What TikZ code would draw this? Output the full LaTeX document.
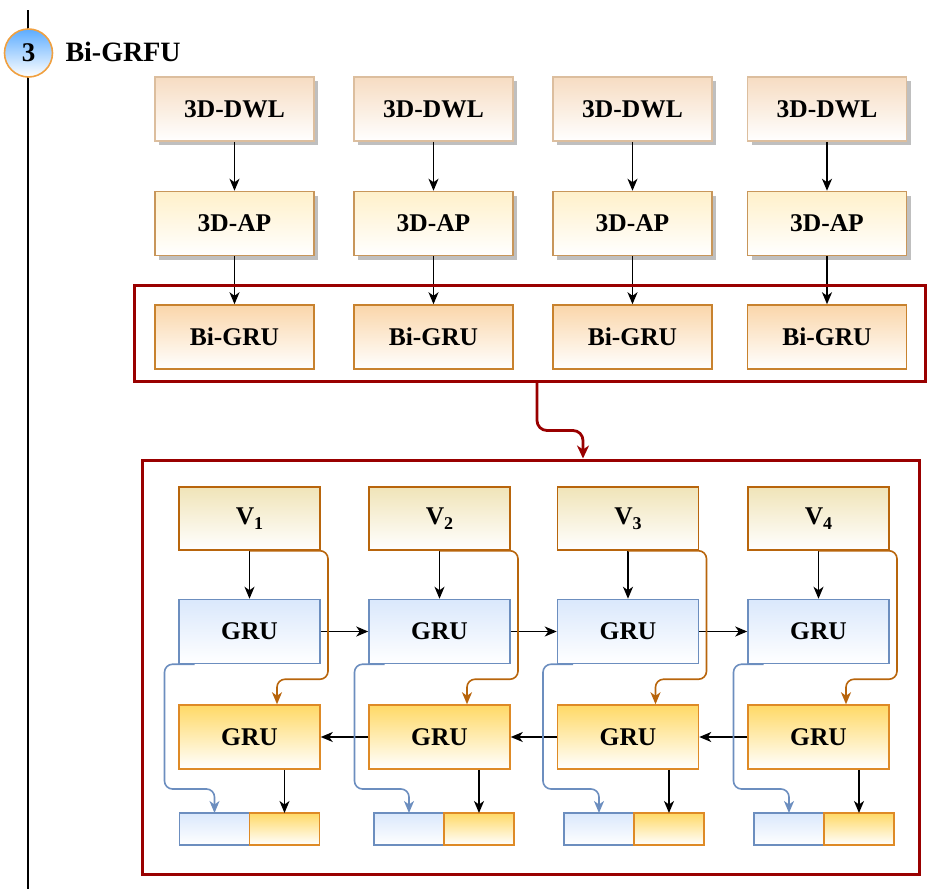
\documentclass[tikz,border=0pt]{standalone}
\usepackage{fontspec}
\setmainfont{Liberation Serif}
\usepackage{xcolor}
\usepackage{tikz}
\usetikzlibrary{positioning,arrows.meta,shadows}

\definecolor{dwltop}{HTML}{F6DCC2}
\definecolor{dwlline}{HTML}{DCBE9E}
\definecolor{aptop}{HTML}{FFF0CA}
\definecolor{apline}{HTML}{C8965A}
\definecolor{bgtop}{HTML}{FAD6AA}
\definecolor{bgline}{HTML}{C8822E}
\definecolor{vtop}{HTML}{F0E4B8}
\definecolor{vline}{HTML}{B8650C}
\definecolor{fwtop}{HTML}{DAE8FC}
\definecolor{fwline}{HTML}{6C8EBF}
\definecolor{bwtop}{HTML}{FFD966}
\definecolor{bwline}{HTML}{DE8A26}
\definecolor{framered}{HTML}{990000}
\definecolor{badgetop}{HTML}{5CACFF}
\definecolor{badgeline}{HTML}{F0A040}

\newcommand{\vsub}[1]{V\raisebox{-5pt}{\fontsize{18}{18}\selectfont #1}}

\tikzset{
  box/.style={draw,line width=1.5pt,inner sep=0pt,font=\fontsize{25.5}{28}\selectfont\bfseries},
  shadowed/.style={drop shadow={shadow xshift=4pt,shadow yshift=-4pt,fill=black!25,opacity=1}},
  dwlbox/.style={box,shadowed,draw=dwlline,top color=dwltop,bottom color=white,minimum width=159pt,minimum height=64pt},
  apbox/.style={box,shadowed,draw=apline,top color=aptop,bottom color=white,minimum width=159pt,minimum height=64pt},
  bgbox/.style={box,draw=bgline,top color=bgtop,bottom color=white,minimum width=159pt,minimum height=64pt},
  vbox/.style={box,draw=vline,top color=vtop,bottom color=white,minimum width=141pt,minimum height=63pt},
  fwbox/.style={box,draw=fwline,top color=fwtop,bottom color=white,minimum width=141pt,minimum height=64pt},
  bwbox/.style={box,draw=bwline,top color=bwtop,bottom color=white,minimum width=141pt,minimum height=64pt},
  fwcell/.style={box,outer sep=0pt,draw=fwline,top color=fwtop,bottom color=white,minimum width=70pt,minimum height=32pt},
  bwcell/.style={box,outer sep=0pt,draw=bwline,top color=bwtop,bottom color=white,minimum width=70pt,minimum height=32pt},
  frame/.style={draw=framered,line width=3pt},
  badge/.style={circle,draw=badgeline,line width=1.6pt,top color=badgetop,bottom color=white,minimum size=48pt,inner sep=0pt,font=\fontsize{27}{30}\selectfont\bfseries},
  arr/.style={-{Stealth[length=12pt,width=10pt,inset=3.5pt]},line width=1.6pt},
  redarr/.style={-{Stealth[length=13pt,width=12pt,inset=4pt]},draw=framered,line width=2.8pt,rounded corners=10pt},
  feed/.style={-{Stealth[length=12pt,width=10pt,inset=3.5pt]},draw=vline,line width=1.6pt,rounded corners=8pt},
  skip/.style={-{Stealth[length=12pt,width=10pt,inset=3.5pt]},draw=fwline,line width=1.6pt,rounded corners=8pt},
}

\begin{document}
\begin{tikzpicture}[x=1pt,y=-1pt,font=\bfseries]
\useasboundingbox (0,0) rectangle (927,889);
% step marker
\draw[line width=1.4pt] (28,10) -- (28,889);
\node[badge] (num) at (28.5,53) {3};
\node[anchor=west,font=\fontsize{28}{32}\selectfont\bfseries] (title) at (62,52) {Bi-GRFU};

% feature branches
\node[dwlbox] (dwl1) at (234.5,109) {3D-DWL};
\node[dwlbox] (dwl2) at (433.5,109) {3D-DWL};
\node[dwlbox] (dwl3) at (632.5,109) {3D-DWL};
\node[dwlbox] (dwl4) at (827,109) {3D-DWL};
\node[apbox,below=49pt of dwl1] (ap1) {3D-AP};
\node[apbox,below=49pt of dwl2] (ap2) {3D-AP};
\node[apbox,below=49pt of dwl3] (ap3) {3D-AP};
\node[apbox,below=49pt of dwl4] (ap4) {3D-AP};
\node[bgbox,below=48pt of ap1] (bg1) {Bi-GRU};
\node[bgbox,below=48pt of ap2] (bg2) {Bi-GRU};
\node[bgbox,below=48pt of ap3] (bg3) {Bi-GRU};
\node[bgbox,below=48pt of ap4] (bg4) {Bi-GRU};
\draw[arr] (dwl1) -- (ap1); \draw[arr] (dwl2) -- (ap2); \draw[arr] (dwl3) -- (ap3); \draw[arr] (dwl4) -- (ap4);
\draw[arr] (ap1) -- (bg1); \draw[arr] (ap2) -- (bg2); \draw[arr] (ap3) -- (bg3); \draw[arr] (ap4) -- (bg4);
\node[frame,minimum width=791pt,minimum height=96pt] (upper) at (529.5,333) {};

% unrolled Bi-GRU
\node[frame,minimum width=777pt,minimum height=414pt] (lower) at (530.5,667) {};
\draw[redarr] ([xshift=7.5pt]upper.south) -- ++(0,48) -| ([xshift=52.5pt]lower.north);

\node[vbox] (v1) at (249.5,518.5) {\vsub{1}};
\node[vbox] (v2) at (439.5,518.5) {\vsub{2}};
\node[vbox] (v3) at (628,518.5) {\vsub{3}};
\node[vbox] (v4) at (818.5,518.5) {\vsub{4}};
\node[fwbox,below=48pt of v1] (fw1) {GRU};
\node[fwbox,below=48pt of v2] (fw2) {GRU};
\node[fwbox,below=48pt of v3] (fw3) {GRU};
\node[fwbox,below=48pt of v4] (fw4) {GRU};
\node[bwbox,below=40pt of fw1] (bw1) {GRU};
\node[bwbox,below=40pt of fw2] (bw2) {GRU};
\node[bwbox,below=40pt of fw3] (bw3) {GRU};
\node[bwbox,below=40pt of fw4] (bw4) {GRU};
\node[fwcell] (fc1) at (214.5,829) {}; \node[bwcell,right=0pt of fc1] (bc1) {};
\node[fwcell] (fc2) at (409,829) {}; \node[bwcell,right=0pt of fc2] (bc2) {};
\node[fwcell] (fc3) at (599,829) {}; \node[bwcell,right=0pt of fc3] (bc3) {};
\node[fwcell] (fc4) at (789,829) {}; \node[bwcell,right=0pt of fc4] (bc4) {};

\draw[arr] (v1) -- (fw1); \draw[arr] (v2) -- (fw2); \draw[arr] (v3) -- (fw3); \draw[arr] (v4) -- (fw4);
\draw[arr] (fw1) -- (fw2); \draw[arr] (fw2) -- (fw3); \draw[arr] (fw3) -- (fw4);
\draw[arr] (bw2) -- (bw1); \draw[arr] (bw3) -- (bw2); \draw[arr] (bw4) -- (bw3);
\draw[arr] (bw1.south -| bc1.north) -- (bc1.north); \draw[arr] (bw2.south -| bc2.north) -- (bc2.north);
\draw[arr] (bw3.south -| bc3.north) -- (bc3.north); \draw[arr] (bw4.south -| bc4.north) -- (bc4.north);

\draw[feed] (v1.south) -- ++(78.5,0) |- ([xshift=27.5pt,yshift=25pt]bw1.north) -- ([xshift=27.5pt]bw1.north);
\draw[feed] (v2.south) -- ++(78.5,0) |- ([xshift=27.5pt,yshift=25pt]bw2.north) -- ([xshift=27.5pt]bw2.north);
\draw[feed] (v3.south) -- ++(78.5,0) |- ([xshift=27.5pt,yshift=25pt]bw3.north) -- ([xshift=27.5pt]bw3.north);
\draw[feed] (v4.south) -- ++(78.5,0) |- ([xshift=27.5pt,yshift=25pt]bw4.north) -- ([xshift=27.5pt]bw4.north);
\draw[skip] ([xshift=-55pt]fw1.south) -- ++(-30,0) |- ([yshift=24pt]fc1.north) -- (fc1.north);
\draw[skip] ([xshift=-55pt]fw2.south) -- ++(-30,0) |- ([yshift=24pt]fc2.north) -- (fc2.north);
\draw[skip] ([xshift=-55pt]fw3.south) -- ++(-30,0) |- ([yshift=24pt]fc3.north) -- (fc3.north);
\draw[skip] ([xshift=-55pt]fw4.south) -- ++(-30,0) |- ([yshift=24pt]fc4.north) -- (fc4.north);
\end{tikzpicture}
\end{document}
